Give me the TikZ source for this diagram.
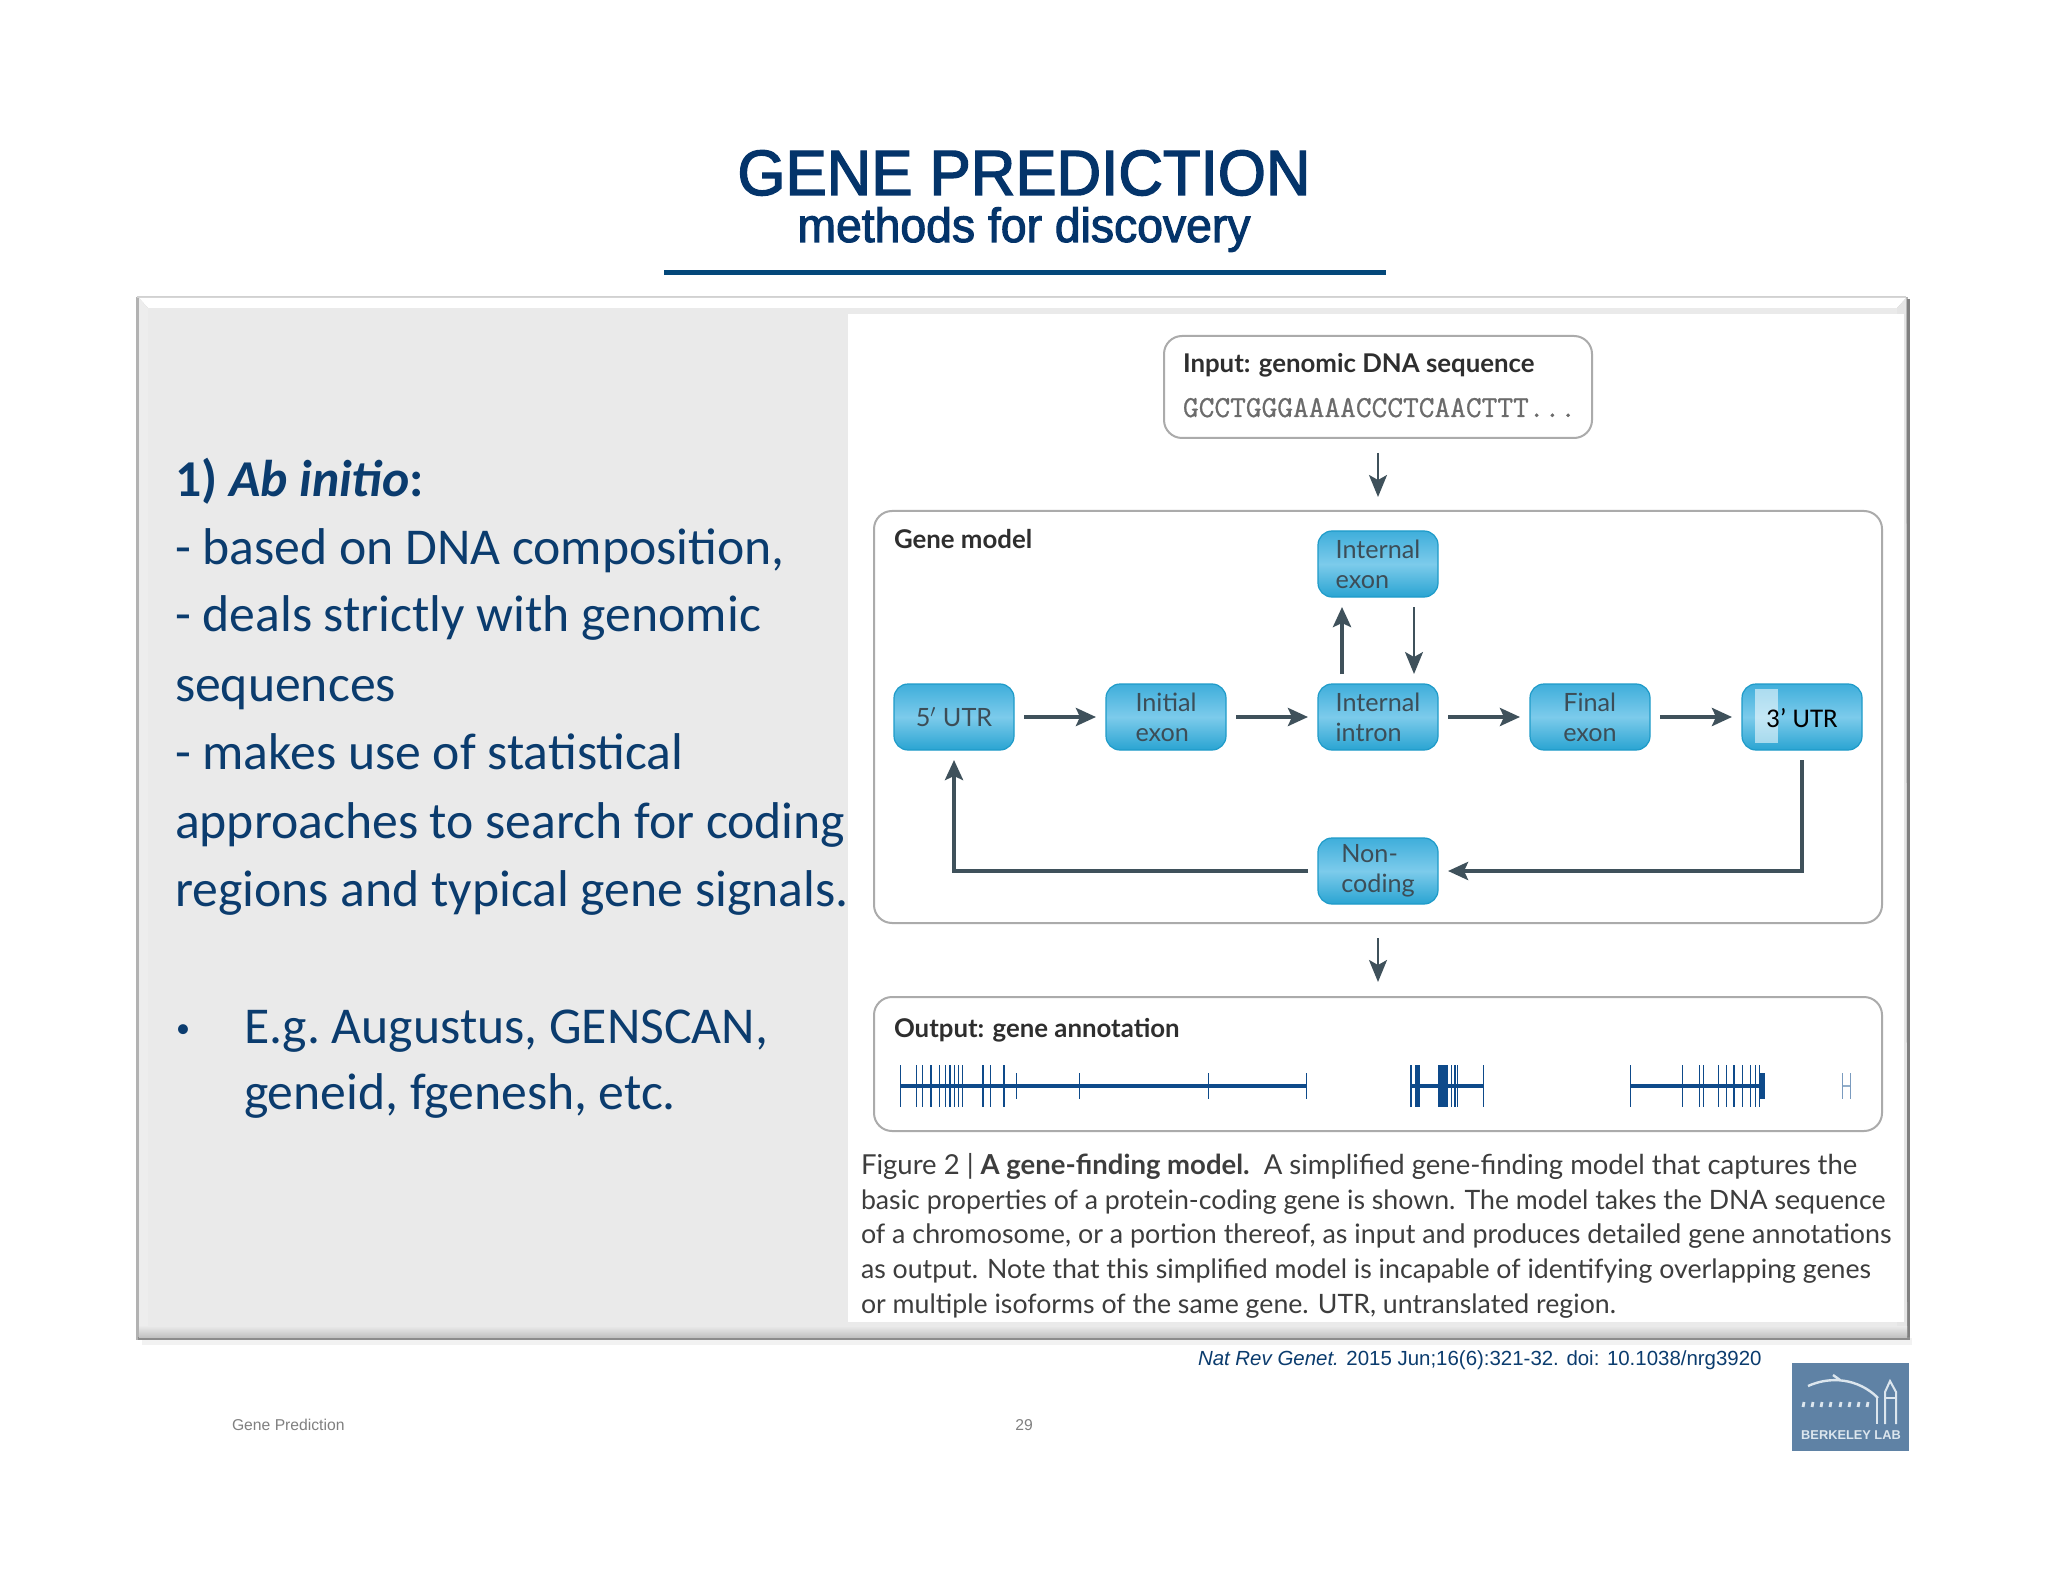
\documentclass[tikz,border=0pt]{standalone}
\usepackage{fontspec}
\setmainfont{Carlito}
\newfontfamily\arialf{Liberation Sans}
\newfontfamily\titlef[FakeBold=2.2,FakeStretch=0.965]{Liberation Sans}
\newfontfamily\latof{Lato}
\setmonofont[FakeBold=0.8]{Latin Modern Mono}
\usetikzlibrary{arrows.meta}
\definecolor{navy}{HTML}{0B3C6E}
\definecolor{titleblue}{HTML}{04346A}
\definecolor{rulecol}{HTML}{04487A}
\definecolor{panelgray}{HTML}{EAEAEA}
\definecolor{arrowdark}{HTML}{3F515B}
\definecolor{boxline}{HTML}{ABABAB}
\definecolor{nodetext}{HTML}{3C4D57}
\definecolor{nodeedge}{HTML}{1E9BC9}
\definecolor{nodetop}{HTML}{3FAEDB}
\definecolor{nodebot}{HTML}{2AA4D2}
\definecolor{nodemid}{HTML}{7CCBEB}
\definecolor{genecol}{HTML}{0E4A8A}
\definecolor{logoblue}{HTML}{5F82A5}
\definecolor{logowhite}{HTML}{DCE6EE}
\tikzset{
  x=0.5pt,y=-0.5pt,
  txt/.style={anchor=base west,inner sep=0pt,outer sep=0pt},
  leftline/.style={txt,text=navy,font=\fontsize{25.85}{30}\selectfont},
  capline/.style={txt,text=black!76,font=\latof\fontsize{13.35}{15}\selectfont},
  head/.style={txt,text=black!82,font=\latof\bfseries\fontsize{12.9}{14}\selectfont},
  whitebox/.style={draw=boxline,line width=1pt,rounded corners=9pt,fill=white},
  genebox/.style={rounded corners=7pt,minimum width=60pt,minimum height=33pt,inner sep=0pt,
    outer sep=5pt,draw=nodeedge,line width=.6pt,top color=nodetop,bottom color=nodebot,middle color=nodemid,
    align=left,text=nodetext,font=\latof\fontsize{12.6}{15}\selectfont},
  thickarrow/.style={draw=arrowdark,line width=2.1pt,-{Stealth[length=10pt,width=9pt,inset=2pt]}},
  thinarrow/.style={draw=arrowdark,line width=1.1pt,-{Stealth[length=11pt,width=9pt,inset=2.5pt]}},
  tick/.style={draw=genecol,line width=0.6pt},
  geneline/.style={draw=genecol,line width=2pt},
  logoline/.style={draw=logowhite,line width=0.7pt}
}
\begin{document}
\begin{tikzpicture}
\useasboundingbox (0,0) rectangle (2048,1582);
\fill[white] (0,0) rectangle (2048,1582);
% title
\node[anchor=base,inner sep=0pt,text=titleblue,font=\titlef\fontsize{32}{36}\selectfont] (title) at (1024,195) {GENE PREDICTION};
\node[anchor=base,inner sep=0pt,text=titleblue,font=\titlef\fontsize{24}{26}\selectfont] (subtitle) at (1024,242) {methods for discovery};
\fill[rulecol] (664,270) rectangle (1386,275);
% panel frame with bevel
\fill[black!5] (142,1338) rectangle (1912,1345);
\fill[black!30] (136,297) rectangle (1908,1340);
\fill[black!50] (1907,299) rectangle (1910,1340);
\fill[black!45] (138,1337) rectangle (1910,1340);
\fill[black!18] (137,296.5) rectangle (1906,298.5);
\fill[white] (139,298) -- (1906,298) -- (1897,308) -- (148,308) -- cycle;
\fill[black!7] (139,298) -- (148,308) -- (148,1328) -- (139,1336) -- cycle;
\fill[black!10] (1906,298) -- (1897,308) -- (1897,1328) -- (1907,1336) -- cycle;
\fill[panelgray] (148,308) rectangle (1897,1328);
\shade[top color=panelgray,bottom color=black!24] (139,1326) rectangle (1907,1337);
\fill[white] (848,314) rectangle (1904,1322);
% left text
\node[leftline,font=\bfseries\fontsize{25.85}{30}\selectfont] (l1) at (175,497) {1) \textit{Ab initio}:};
\node[leftline] (l2) at (175,565) {- based on DNA composition,};
\node[leftline] (l3) at (175,632) {- deals strictly with genomic};
\node[leftline] (l4) at (175,701) {sequences};
\node[leftline] (l5) at (175,769) {- makes use of statistical};
\node[leftline] (l6) at (175,838) {approaches to search for coding};
\node[leftline] (l7) at (175,906) {regions and typical gene signals.};
\node[leftline,font=\fontsize{14}{16}\selectfont] (b0) at (176,1037) {•};
\node[leftline] (l8) at (244,1043) {E.g.\hspace{-2pt} Augustus, GENSCAN,};
\node[leftline] (l9) at (244,1109) {geneid, fgenesh, etc.};
% input
\draw[whitebox] (1164,336) rectangle (1592,438);
\coordinate (inbot) at (1378,453);
\coordinate (modtop) at (1378,497);
\node[head] (inhead) at (1183,373) {Input: genomic DNA sequence};
\node[txt,text=black!58,font=\ttfamily\fontsize{15.26}{17}\selectfont] (inseq) at (1183,417) {GCCTGGGAAAACCCTCAACTTT...};
\draw[thinarrow] (inbot) -- (modtop);
% gene model
\draw[whitebox] (874,511) rectangle (1882,923);
\node[head] (gmhead) at (894,549) {Gene model};
\node[genebox] (utr5) at (954,717) {5$'$ UTR};
\node[genebox] (init) at (1166,717) {Initial\\exon};
\node[genebox] (intron) at (1378,717) {Internal\\intron};
\node[genebox] (final) at (1590,717) {Final\\exon};
\node[genebox] (utr3) at (1802,717) {};
\fill[white,opacity=.55] (1755,689) rectangle (1778,743);
\node[inner sep=0pt,text=black,font=\fontsize{13.5}{15}\selectfont] (utr3t) at (1802,718) {3’ UTR};
\node[genebox] (exon) at (1378,564) {Internal\\exon};
\node[genebox] (noncod) at (1378,871) {Non-\\coding};
\draw[thickarrow] (utr5) -- (init);
\draw[thickarrow] (init) -- (intron);
\draw[thickarrow] (intron) -- (final);
\draw[thickarrow] (final) -- (utr3);
\draw[thickarrow] ([xshift=-18pt]intron.north) -- ([xshift=-18pt]exon.south);
\draw[thinarrow] ([xshift=18pt]exon.south) -- ([xshift=18pt]intron.north);
\draw[thickarrow] (utr3.south) |- (noncod.east);
\draw[thickarrow] (noncod.west) -| (utr5.south);
% arrow to output
\coordinate (modbot) at (1378,938);
\coordinate (outtop) at (1378,982);
\draw[thinarrow] (modbot) -- (outtop);
% output
\draw[whitebox] (874,997) rectangle (1882,1131);
\node[head] (outhead) at (894,1037) {Output: gene annotation};
\draw[geneline] ({860+60*.676},1086) -- ({860+660*.676},1086);
\draw[geneline] ({860+815*.676},1086) -- ({860+922*.676},1086);
\draw[geneline] ({860+1140*.676},1086) -- ({860+1335*.676},1086);
\draw[draw=genecol!45,line width=.6pt] ({860+1453*.676},1086) -- ({860+1465*.676},1086);
\foreach \z in {60,84,92,105,117,127,133,140,146,152,182,193,213,815,822,828,875,880,884,922,1140,1217,1242,1248,1270,1282,1293,1305,1317,1325,1330}
  \draw[tick] ({860+\z*.676},1065) -- ({860+\z*.676},1107);
\foreach \z in {231,325,515,660}
  \draw[tick] ({860+\z*.676},1073) -- ({860+\z*.676},1099);
\foreach \z in {1453,1465}
  \draw[draw=genecol!55,line width=.6pt] ({860+\z*.676},1073) -- ({860+\z*.676},1099);
\fill[genecol] ({860+855*.676},1065) rectangle ({860+870*.676},1107);
\fill[genecol] ({860+822*.676},1065) rectangle ({860+828*.676},1107);
\fill[genecol] ({860+1330*.676},1073) rectangle ({860+1338*.676},1099);
% caption
\node[capline,font=\latof\fontsize{13.75}{15}\selectfont] (c1) at (861,1174) {Figure 2 | \textbf{A gene-finding model.}\ \ A simplified gene-finding model that captures the};
\node[capline] (c2) at (861,1209) {basic properties of a protein-coding gene is shown. The model takes the DNA sequence};
\node[capline,font=\latof\fontsize{13.42}{15}\selectfont] (c3) at (861,1243) {of a chromosome, or a portion thereof, as input and produces detailed gene annotations};
\node[capline] (c4) at (861,1278) {as output. Note that this simplified model is incapable of identifying overlapping genes};
\node[capline] (c5) at (861,1313) {or multiple isoforms of the same gene. UTR, untranslated region.};
% citation and footer
\node[txt,text=navy,font=\arialf\fontsize{10.22}{12}\selectfont] (cite) at (1198,1365) {\textit{Nat Rev Genet.} 2015 Jun;16(6):321-32. doi: 10.1038/nrg3920};
\node[txt,text=black!50,font=\arialf\fontsize{7.85}{9}\selectfont] (foot) at (232,1430) {Gene Prediction};
\node[anchor=base,inner sep=0pt,text=black!50,font=\arialf\fontsize{7.85}{9}\selectfont] (page) at (1024,1430) {29};
% logo
\fill[logoblue] (1792,1363) rectangle (1909,1451);
\draw[logoline,line width=1.2pt] (1808,1386) .. controls (1830,1376) and (1858,1378) .. (1878,1398);
\draw[logoline,line width=1.2pt] (1833,1375) -- (1840,1380);
\foreach \x in {1803,1812,1821,1830,1840,1849,1858,1867}
  \draw[logoline,line width=1.4pt] (\x,1407) -- (\x+1,1402);
\draw[logoline,line width=1pt] (1877,1398) -- (1877,1424);
\draw[logoline,line width=1pt] (1885,1424) -- (1885,1392) -- (1890,1381) -- (1896,1392) -- (1896,1424);
\draw[logoline,line width=1pt] (1885,1398) -- (1896,1398);
\node[inner sep=0pt,text=logowhite,font=\arialf\bfseries\fontsize{6.4}{7}\selectfont] (logotext) at (1851,1435) {BERKELEY LAB};
\end{tikzpicture}
\end{document}
